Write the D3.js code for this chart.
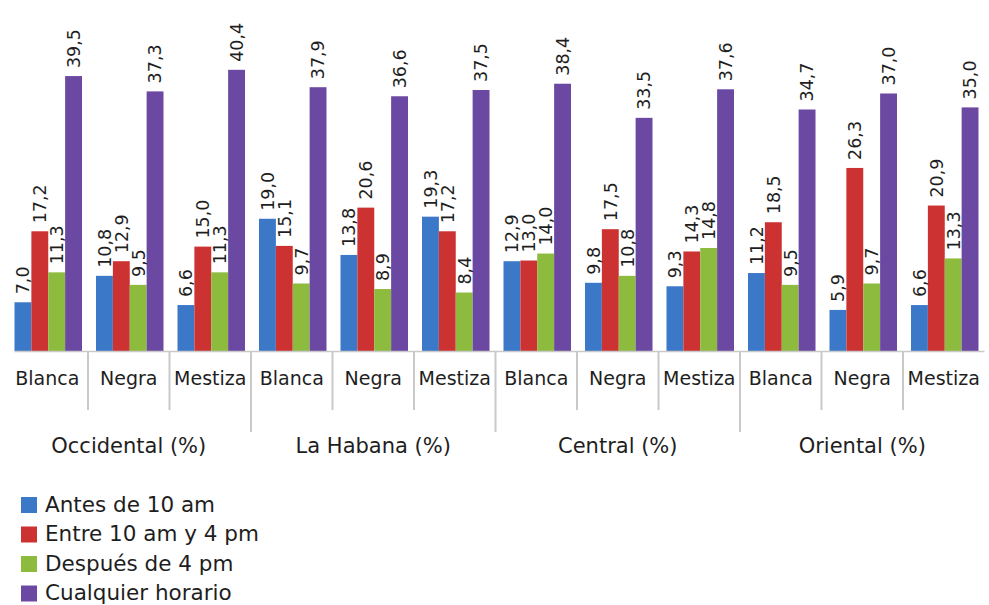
<!DOCTYPE html>
<html>
<head>
<meta charset="utf-8">
<script src="https://cdn.jsdelivr.net/npm/d3@7"></script>
<style>
  html, body { margin: 0; padding: 0; background: #fff; }
  svg { display: block; font-family: "DejaVu Sans", Verdana, sans-serif; }
</style>
</head>
<body>
<svg id="chart" width="989" height="605"></svg>
<script>
// ---- data ----
const regions = ["Occidental (%)", "La Habana (%)", "Central (%)", "Oriental (%)"];
const races = ["Blanca", "Negra", "Mestiza"];
const seriesNames = ["Antes de 10 am", "Entre 10 am y 4 pm", "Después de 4 pm", "Cualquier horario"];
const seriesColors = ["#3b78c8", "#cc3232", "#8dbb3e", "#6b48a2"];
// values per subcategory (region x race), in order
const antes      = [7.0, 10.8, 6.6, 19.0, 13.8, 19.3, 12.9, 9.8, 9.3, 11.2, 5.9, 6.6];
const entre      = [17.2, 12.9, 15.0, 15.1, 20.6, 17.2, 13.0, 17.5, 14.3, 18.5, 26.3, 20.9];
const despues    = [11.3, 9.5, 11.3, 9.7, 8.9, 8.4, 14.0, 10.8, 14.8, 9.5, 9.7, 13.3];
const cualquier  = [39.5, 37.3, 40.4, 37.9, 36.6, 37.5, 38.4, 33.5, 37.6, 34.7, 37.0, 35.0];
const seriesValues = [antes, entre, despues, cualquier];
const yDomain = [0, 50];

// ---- build ----
const subcats = [];
regions.forEach((r, ri) => races.forEach((c, ci) => subcats.push({ region: r, race: c, idx: ri * races.length + ci })));

const svg = d3.select("#chart");
const left = 6.5, right = 984.5, baseY = 351, topY = 3;

const x0 = d3.scaleBand().domain(subcats.map(d => d.idx)).range([left, right]).padding(0);
const bw = x0.bandwidth();
const x1 = d3.scaleBand().domain(seriesNames).range([8, bw - 6]).padding(0);
const y = d3.scaleLinear().domain(yDomain).range([baseY, topY]);
const color = d3.scaleOrdinal().domain(seriesNames).range(seriesColors);

const textColor = "#1e1e1e";
const gridColor = "#c9c9c9";

// bars
const groups = svg.append("g").selectAll("g").data(subcats).join("g")
  .attr("transform", d => `translate(${x0(d.idx)},0)`);

groups.selectAll("rect")
  .data(d => seriesNames.map((s, si) => ({ s, v: seriesValues[si][d.idx] })))
  .join("rect")
  .attr("x", d => x1(d.s))
  .attr("width", x1.bandwidth())
  .attr("y", d => y(d.v))
  .attr("height", d => y(0) - y(d.v))
  .attr("fill", d => color(d.s));

// value labels
groups.selectAll("text")
  .data(d => seriesNames.map((s, si) => ({ s, v: seriesValues[si][d.idx] })))
  .join("text")
  .attr("transform", d => `translate(${x1(d.s) + x1.bandwidth() / 2},${y(d.v) - 8}) rotate(-90)`)
  .attr("dy", "0.36em")
  .attr("text-anchor", "start")
  .attr("font-size", "17.5px")
  .attr("fill", textColor)
  .text(d => d3.format(".1f")(d.v).replace(".", ","));

// axis line
svg.append("line")
  .attr("x1", left + 8).attr("x2", right)
  .attr("y1", baseY + 0.5).attr("y2", baseY + 0.5)
  .attr("stroke", gridColor).attr("stroke-width", 1.5);

// separators between subcategories
const seps = d3.range(1, subcats.length);
svg.append("g").selectAll("line").data(seps).join("line")
  .attr("x1", i => x0(i)).attr("x2", i => x0(i))
  .attr("y1", baseY)
  .attr("y2", i => (i % races.length === 0) ? 432 : 410)
  .attr("stroke", gridColor).attr("stroke-width", 2);

// category labels
svg.append("g").selectAll("text").data(subcats).join("text")
  .attr("x", d => x0(d.idx) + bw / 2)
  .attr("y", 385)
  .attr("text-anchor", "middle")
  .attr("font-size", "19px")
  .attr("fill", textColor)
  .text(d => d.race);

// region labels
svg.append("g").selectAll("text").data(regions).join("text")
  .attr("x", (r, ri) => (x0(ri * races.length) + x0((ri + 1) * races.length - 1) + bw) / 2)
  .attr("y", 453)
  .attr("text-anchor", "middle")
  .attr("font-size", "21px")
  .attr("fill", textColor)
  .text(r => r);

// legend
const legend = svg.append("g").selectAll("g").data(seriesNames).join("g")
  .attr("transform", (d, i) => `translate(21,${497 + i * 29.5})`);
legend.append("rect").attr("width", 16).attr("height", 16).attr("fill", d => color(d));
legend.append("text").attr("x", 24).attr("y", 14.5)
  .attr("font-size", "21.5px").attr("fill", textColor).text(d => d);
</script>
</body>
</html>
